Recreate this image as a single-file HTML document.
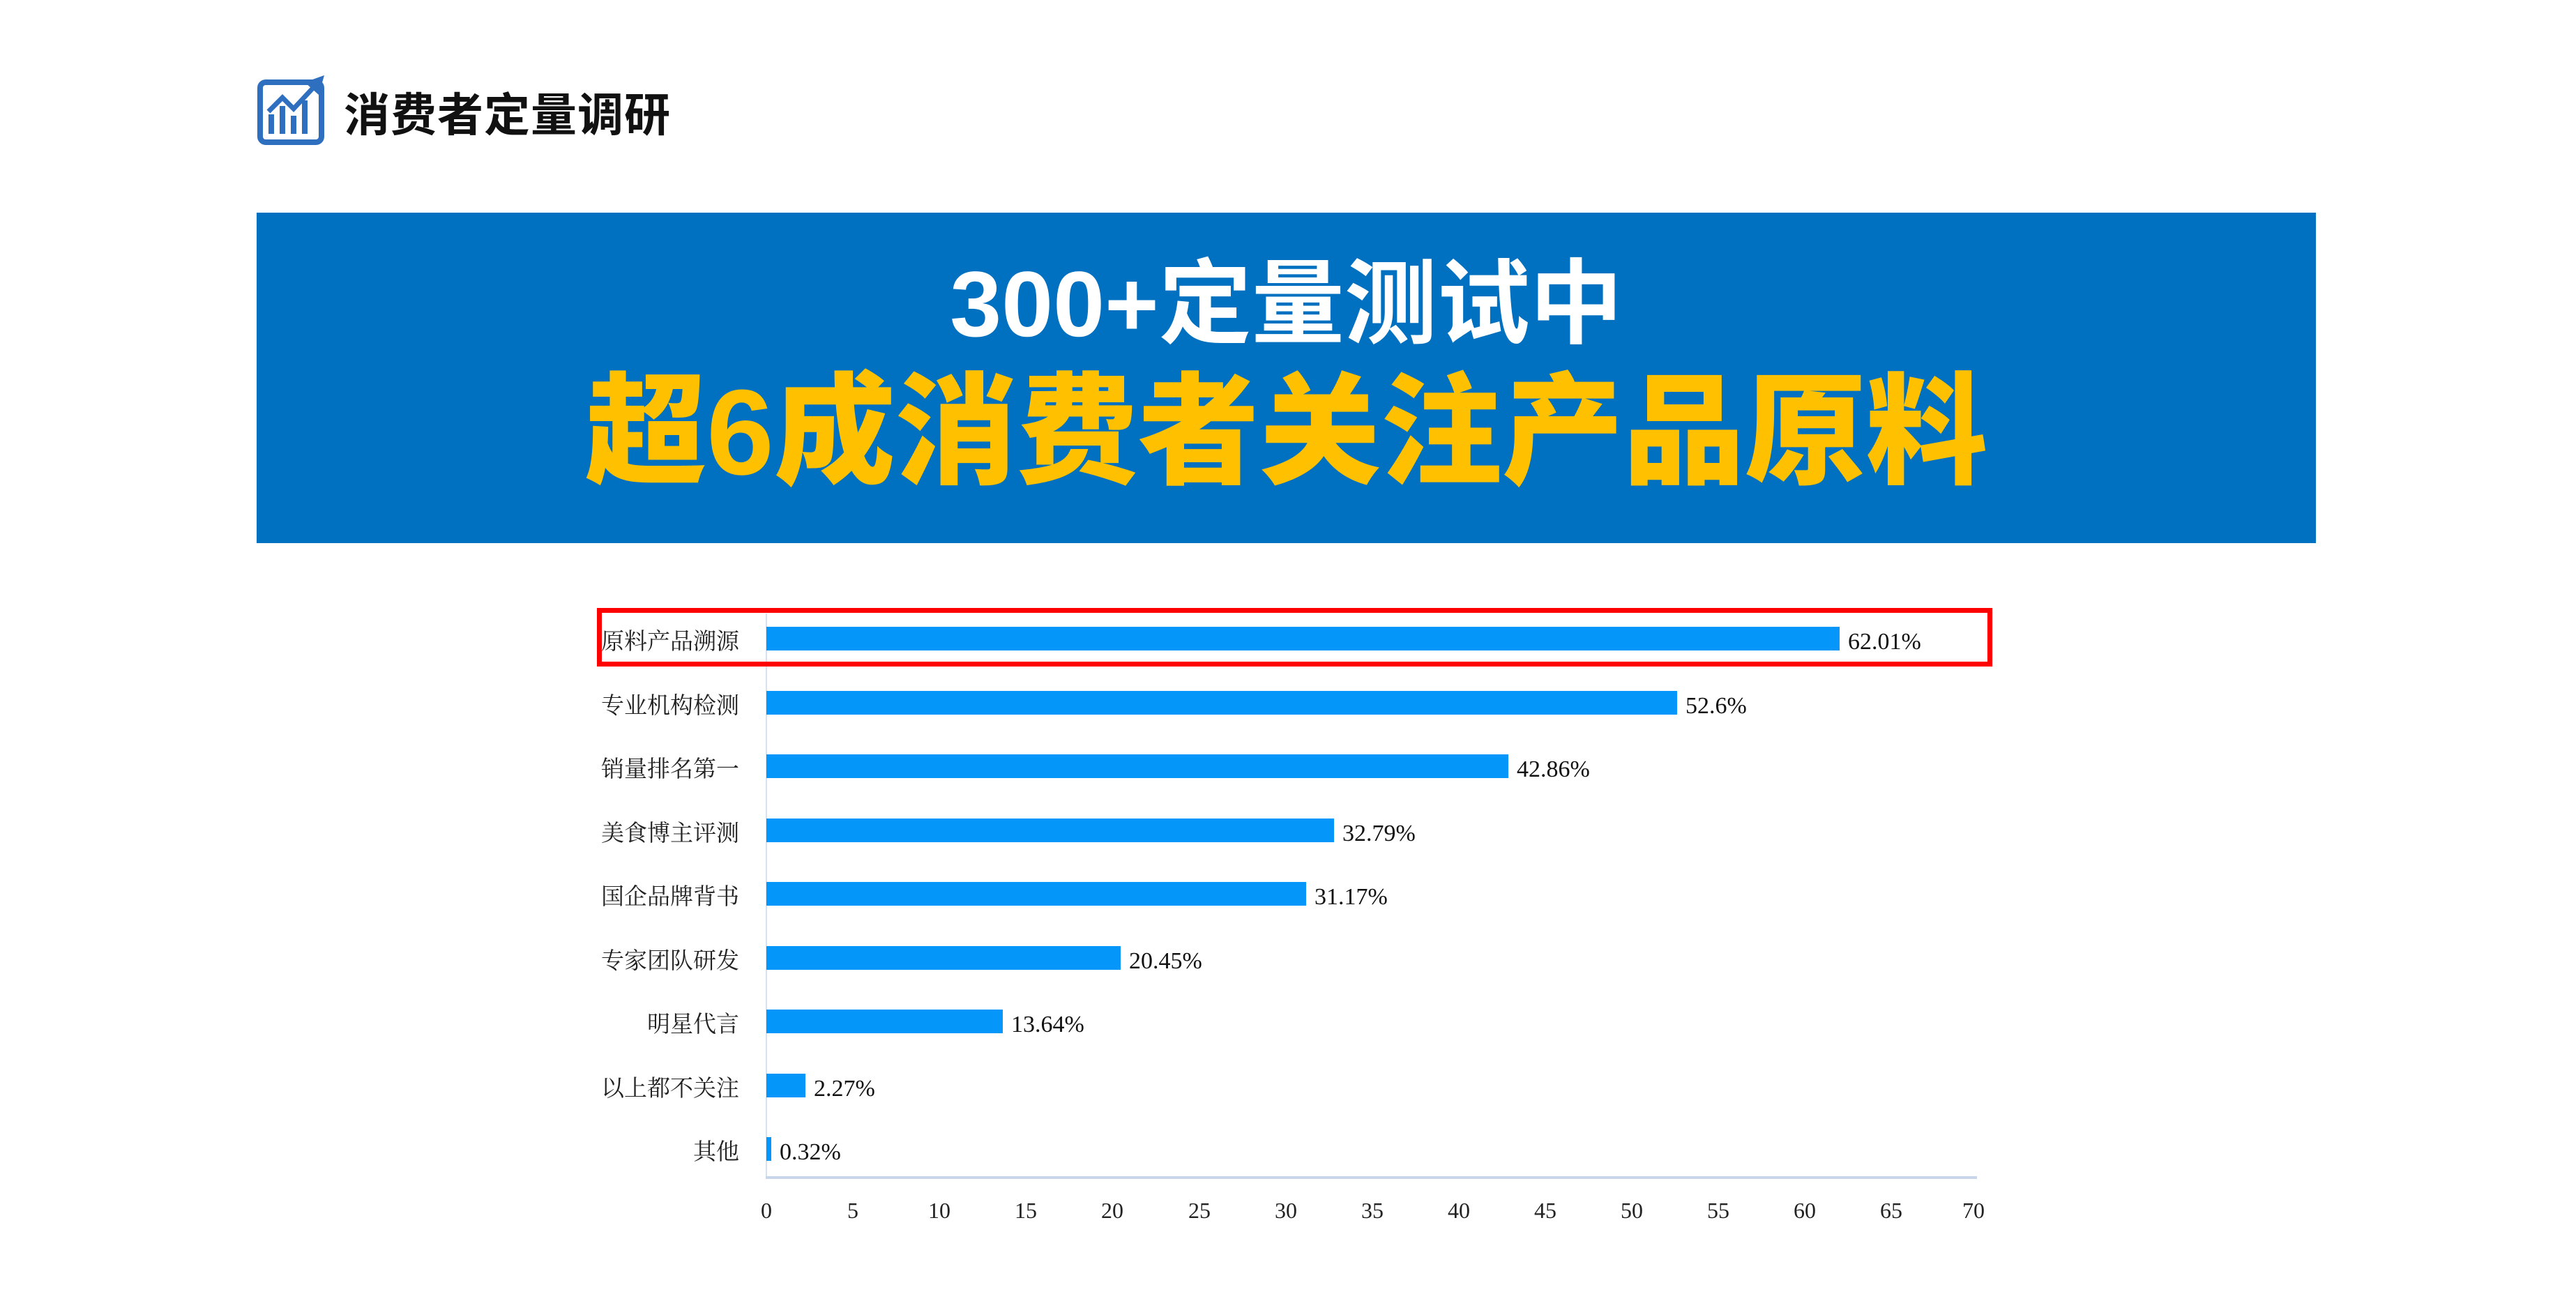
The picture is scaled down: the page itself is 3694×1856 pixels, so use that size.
<!DOCTYPE html>
<html><head><meta charset="utf-8"><style>
body{margin:0;width:3694px;height:1856px;background:#fff;position:relative;overflow:hidden;font-family:"Liberation Serif","Noto Serif CJK SC",serif}
.a{position:absolute}
.cat{position:absolute;right:2634px;font-size:33px;color:#222;line-height:40px;white-space:nowrap;margin-top:5px}
.bar{position:absolute;left:1099px;height:34px;background:#0596fa}
.val{position:absolute;font-size:34px;color:#111;line-height:40px;margin-top:5px}
.tk{position:absolute;top:1718px;font-size:32px;color:#222;width:80px;margin-left:-40px;text-align:center}
</style></head><body>
<svg class="a" style="left:369px;top:104px" width="100" height="104" viewBox="0 0 100 104">
<rect x="4" y="14" width="88" height="86" rx="8" fill="none" stroke="#2f6fc0" stroke-width="8"/>
<path d="M20 88V60M36 88V48M52 88V62M68 88V40" stroke="#2f6fc0" stroke-width="8"/>
<path d="M16 56L36 36L52 52L80 22" fill="none" stroke="#2f6fc0" stroke-width="7"/>
<path d="M68 14L96 4L88 32Z" fill="#2f6fc0"/>
</svg>
<div class="a" style="left:493px;top:112px;font:bold 66px 'Liberation Sans','Noto Sans CJK SC',sans-serif;color:#111;letter-spacing:1px">消费者定量调研</div>
<div class="a" style="left:368px;top:305px;width:2953px;height:474px;background:#0070c0"></div>
<div class="a" style="left:368px;top:362px;width:2953px;text-align:center;font:bold 133px/150px 'Liberation Sans','Noto Sans CJK SC',sans-serif;color:#fff">300+定量测试中</div>
<div class="a" style="left:368px;top:520px;width:2953px;text-align:center;font:900 174px/200px 'Liberation Sans','Noto Sans CJK SC',sans-serif;color:#ffc000">超6成消费者关注产品原料</div>

<div class="a" style="left:1098px;top:880px;width:2px;height:810px;background:#d6e2f2"></div>
<div class="a" style="left:1098px;top:1687px;width:1737px;height:4px;background:#c9d5ea"></div>

<div class="a" style="left:856px;top:872px;width:1987px;height:70px;border:7px solid #f00"></div>

<div class="cat" style="top:896px">原料产品溯源</div><div class="bar" style="top:899px;width:1539px"></div><div class="val" style="top:896px;left:2650px">62.01%</div>
<div class="cat" style="top:988px">专业机构检测</div><div class="bar" style="top:991px;width:1306px"></div><div class="val" style="top:988px;left:2417px">52.6%</div>
<div class="cat" style="top:1079px">销量排名第一</div><div class="bar" style="top:1082px;width:1064px"></div><div class="val" style="top:1079px;left:2175px">42.86%</div>
<div class="cat" style="top:1171px">美食博主评测</div><div class="bar" style="top:1174px;width:814px"></div><div class="val" style="top:1171px;left:1925px">32.79%</div>
<div class="cat" style="top:1262px">国企品牌背书</div><div class="bar" style="top:1265px;width:774px"></div><div class="val" style="top:1262px;left:1885px">31.17%</div>
<div class="cat" style="top:1354px">专家团队研发</div><div class="bar" style="top:1357px;width:508px"></div><div class="val" style="top:1354px;left:1619px">20.45%</div>
<div class="cat" style="top:1445px">明星代言</div><div class="bar" style="top:1448px;width:339px"></div><div class="val" style="top:1445px;left:1450px">13.64%</div>
<div class="cat" style="top:1537px">以上都不关注</div><div class="bar" style="top:1540px;width:56px"></div><div class="val" style="top:1537px;left:1167px">2.27%</div>
<div class="cat" style="top:1628px">其他</div><div class="bar" style="top:1631px;width:7px"></div><div class="val" style="top:1628px;left:1118px">0.32%</div>

<div class="tk" style="left:1099px">0</div><div class="tk" style="left:1223px">5</div><div class="tk" style="left:1347px">10</div><div class="tk" style="left:1471px">15</div><div class="tk" style="left:1595px">20</div><div class="tk" style="left:1720px">25</div><div class="tk" style="left:1844px">30</div><div class="tk" style="left:1968px">35</div><div class="tk" style="left:2092px">40</div><div class="tk" style="left:2216px">45</div><div class="tk" style="left:2340px">50</div><div class="tk" style="left:2464px">55</div><div class="tk" style="left:2588px">60</div><div class="tk" style="left:2712px">65</div><div class="tk" style="left:2830px">70</div>
</body></html>
